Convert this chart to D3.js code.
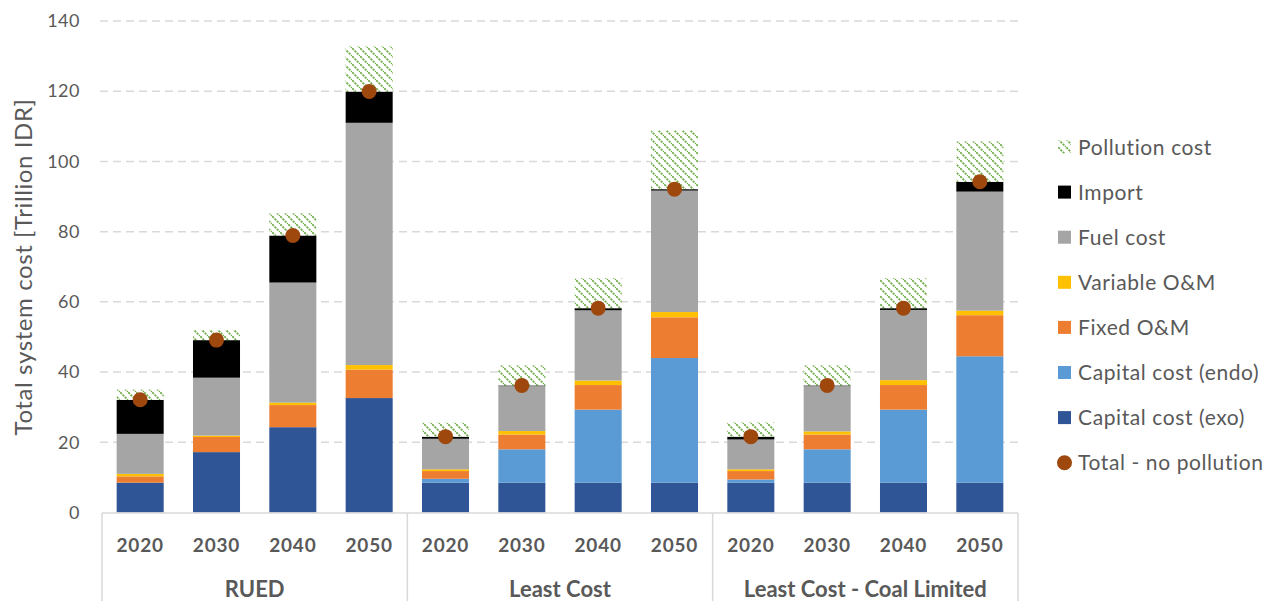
<!DOCTYPE html>
<html>
<head>
<meta charset="utf-8">
<script src="https://cdn.jsdelivr.net/npm/d3@7"></script>
<style>
  html, body { margin: 0; padding: 0; background: #fff; }
  svg { display: block; font-family: Lato, "Open Sans", sans-serif; }
</style>
</head>
<body>
<svg id="chart" width="1276" height="601"></svg>
<script>
// Scenarios and years along the category axis
const scenarios = ["RUED", "Least Cost", "Least Cost - Coal Limited"];
const years = ["2020", "2030", "2040", "2050"];

// Cost components per scenario, one value per year [Trillion IDR]
const capitalExo = [
  [8.5, 17.2, 24.3, 32.6],
  [8.5, 8.5, 8.5, 8.5],
  [8.5, 8.5, 8.5, 8.5]
];
const capitalEndo = [
  [0, 0, 0, 0],
  [1.1, 9.5, 20.8, 35.5],
  [0.9, 9.5, 20.8, 36.0]
];
const fixedOM = [
  [1.8, 4.3, 6.3, 8.1],
  [2.2, 4.2, 7.0, 11.6],
  [2.4, 4.2, 7.0, 11.7]
];
const variableOM = [
  [0.7, 0.4, 0.7, 1.3],
  [0.5, 1.0, 1.3, 1.5],
  [0.5, 0.9, 1.4, 1.3]
];
const fuelCost = [
  [11.4, 16.5, 34.2, 69.0],
  [8.7, 12.8, 20.0, 34.6],
  [8.5, 12.9, 20.0, 33.9]
];
const importCost = [
  [9.7, 10.7, 13.4, 8.9],
  [0.6, 0.2, 0.6, 0.4],
  [0.8, 0.2, 0.5, 2.8]
];
const pollutionCost = [
  [2.9, 2.9, 6.3, 12.9],
  [4.0, 5.7, 8.6, 16.7],
  [4.1, 5.7, 8.6, 11.5]
];

const yTicks = [0, 20, 40, 60, 80, 100, 120, 140];

// Stack order from the bottom up
const series = [
  { key: "Capital cost (exo)", values: capitalExo, color: "#2F5597" },
  { key: "Capital cost (endo)", values: capitalEndo, color: "#5B9BD5" },
  { key: "Fixed O&M", values: fixedOM, color: "#ED7D31" },
  { key: "Variable O&M", values: variableOM, color: "#FFC000" },
  { key: "Fuel cost", values: fuelCost, color: "#A5A5A5" },
  { key: "Import", values: importCost, color: "#000000" },
  { key: "Pollution cost", values: pollutionCost, color: "url(#hatch)" }
];

const textColor = "#595959";
const gridColor = "#D9D9D9";
const dotColor = "#9E480E";

const svg = d3.select("#chart");

// Diagonal green hatch for pollution cost
const defs = svg.append("defs");
const pat = defs.append("pattern")
  .attr("id", "hatch")
  .attr("patternUnits", "userSpaceOnUse")
  .attr("width", 8).attr("height", 8);
pat.append("rect").attr("width", 8).attr("height", 8).attr("fill", "#fff");
pat.append("path")
  .attr("d", "M-2,-2 L10,10 M-2,6 L2,10 M6,-2 L10,2")
  .attr("stroke", "#70AD47").attr("stroke-width", 1.8)
  .attr("stroke-dasharray", "2.2,1");

const plotLeft = 102, plotRight = 1018;
const y = d3.scaleLinear().domain([0, 140]).range([512.5, 21]);

const xGroup = d3.scaleBand().domain(scenarios).range([plotLeft, plotRight]).padding(0);
const xYear = d3.scaleBand().domain(years).range([0, xGroup.bandwidth()])
  .paddingInner(0.384).paddingOuter(0.192);

// Gridlines
svg.append("g").selectAll("line").data(yTicks.filter(d => d > 0)).join("line")
  .attr("x1", 100).attr("x2", 1022)
  .attr("y1", d => y(d)).attr("y2", d => y(d))
  .attr("stroke", gridColor).attr("stroke-width", 1.5)
  .attr("stroke-dasharray", "8,5");

// Y axis tick labels
const yAxis = d3.axisLeft(y).tickValues(yTicks).tickSize(0).tickPadding(0);
const gy = svg.append("g").attr("transform", "translate(80,0)").call(yAxis);
gy.select(".domain").remove();
gy.selectAll("text").attr("fill", textColor).style("font-size", "18px")
  .style("letter-spacing", "0.5px")
  .style("font-family", "Lato, sans-serif");

// Y axis title
svg.append("text")
  .attr("transform", "translate(32,267) rotate(-90)")
  .attr("text-anchor", "middle")
  .attr("fill", textColor)
  .style("font-size", "24px")
  .style("letter-spacing", "0.6px")
  .text("Total system cost [Trillion IDR]");

// Stacked bars
const barsG = svg.append("g");
const totals = [];
scenarios.forEach((sc, si) => {
  years.forEach((yr, yi) => {
    let base = 0;
    const x0 = xGroup(sc) + xYear(yr);
    series.forEach(s => {
      const v = s.values[si][yi];
      if (v > 0) {
        barsG.append("rect")
          .attr("x", x0)
          .attr("width", xYear.bandwidth())
          .attr("y", y(base + v))
          .attr("height", y(base) - y(base + v))
          .attr("fill", s.color);
      }
      if (s.key !== "Pollution cost") base += v;
    });
    totals.push({ sc, yr, total: base });
  });
});

// Total excluding pollution
svg.append("g").selectAll("circle").data(totals).join("circle")
  .attr("cx", d => xGroup(d.sc) + xYear(d.yr) + xYear.bandwidth() / 2)
  .attr("cy", d => y(d.total))
  .attr("r", 7.5)
  .attr("fill", dotColor);

// Category axis frame
const axisG = svg.append("g").attr("stroke", gridColor).attr("stroke-width", 1.5);
axisG.append("line").attr("x1", plotLeft).attr("x2", plotRight)
  .attr("y1", 513).attr("y2", 513);
[...scenarios.map(s => xGroup(s)), plotRight].forEach(xv => {
  axisG.append("line").attr("x1", xv).attr("x2", xv).attr("y1", 513).attr("y2", 601);
});

// Year labels
scenarios.forEach(sc => {
  svg.append("g").selectAll("text").data(years).join("text")
    .attr("x", d => xGroup(sc) + xYear(d) + xYear.bandwidth() / 2)
    .attr("y", 552)
    .attr("text-anchor", "middle")
    .attr("fill", textColor)
    .style("font-size", "19px").style("font-weight", "bold")
    .style("letter-spacing", "0.8px")
    .text(d => d);
});

// Scenario labels
svg.append("g").selectAll("text").data(scenarios).join("text")
  .attr("x", d => xGroup(d) + xGroup.bandwidth() / 2)
  .attr("y", 597)
  .attr("text-anchor", "middle")
  .attr("fill", textColor)
  .style("font-size", "22px").style("font-weight", "bold")
  .text(d => d);

// Legend
const legendItems = [
  { key: "Pollution cost", color: "url(#hatch)", type: "rect" },
  { key: "Import", color: "#000000", type: "rect" },
  { key: "Fuel cost", color: "#A5A5A5", type: "rect" },
  { key: "Variable O&M", color: "#FFC000", type: "rect" },
  { key: "Fixed O&M", color: "#ED7D31", type: "rect" },
  { key: "Capital cost (endo)", color: "#5B9BD5", type: "rect" },
  { key: "Capital cost (exo)", color: "#2F5597", type: "rect" },
  { key: "Total - no pollution", color: dotColor, type: "circle" }
];
const lg = svg.append("g").attr("transform", "translate(1058,147)");
legendItems.forEach((d, i) => {
  const row = lg.append("g").attr("transform", `translate(0,${i * 45.1})`);
  if (d.type === "rect") {
    row.append("rect").attr("x", 0).attr("y", -6.5).attr("width", 13).attr("height", 13)
      .attr("fill", d.color);
  } else {
    row.append("circle").attr("cx", 6.5).attr("cy", 0).attr("r", 7.5).attr("fill", d.color);
  }
  row.append("text").attr("x", 20).attr("y", 7.5)
    .attr("fill", textColor).style("font-size", "21px")
    .style("letter-spacing", "0.6px").text(d.key);
});
</script>
</body>
</html>
